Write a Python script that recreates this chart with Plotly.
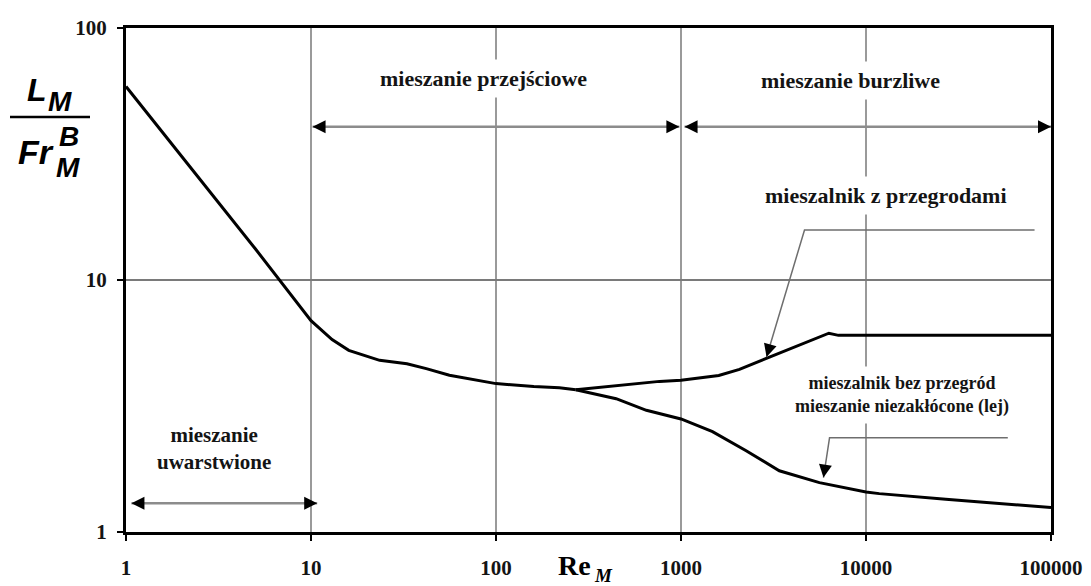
import math
import plotly.graph_objects as go

# ---------------- data ----------------
x_ticks = [1, 10, 100, 1000, 10000, 100000]
x_tick_text = ["1", "10", "100", "1000", "10000", "100000"]
y_ticks = [1, 10, 100]
y_tick_text = ["1", "10", "100"]

# common part of the curve (stratified + transitional regime)
re_common = [1, 2, 5, 10, 11.5, 13, 16, 23.5, 33, 42, 56, 100, 160, 220, 270]
lf_common = [58.6, 30.8, 13.3, 6.9, 6.3, 5.8, 5.26, 4.8, 4.65, 4.45, 4.19, 3.88, 3.78, 3.74, 3.67]

# branch: vessel with baffles
re_baffled = [270, 450, 765, 1000, 1600, 2070, 3000, 4400, 6300, 7100, 100000]
lf_baffled = [3.67, 3.82, 3.96, 4.0, 4.18, 4.42, 4.93, 5.52, 6.15, 6.03, 6.03]

# branch: vessel without baffles (vortex)
re_unbaffled = [270, 446, 650, 870, 1000, 1480, 2250, 3400, 5600, 10000, 11800, 27000, 62000, 100000]
lf_unbaffled = [3.67, 3.38, 3.04, 2.88, 2.81, 2.5, 2.10, 1.75, 1.57, 1.44, 1.42, 1.35, 1.29, 1.25]

# regime range arrows
regime_top_y = 40.6
transitional_x = [10.2, 980]
turbulent_x = [1045, 100000]
stratified_y = 1.30
stratified_x = [1.07, 10.8]

# callout leader lines (end of leader -> knee -> arrow tip)
callout_baffled_x = [81500, 4652, 2900]
callout_baffled_y = [15.8, 15.8, 4.95]
callout_unbaffled_x = [58400, 6353, 5890]
callout_unbaffled_y = [2.366, 2.366, 1.644]

# ---------------- figure ----------------
fig = go.Figure()

curve_style = dict(color="black", width=3)
fig.add_trace(go.Scatter(x=re_common, y=lf_common, mode="lines", line=curve_style, hoverinfo="skip"))
fig.add_trace(go.Scatter(x=re_baffled, y=lf_baffled, mode="lines", line=curve_style, hoverinfo="skip"))
fig.add_trace(go.Scatter(x=re_unbaffled, y=lf_unbaffled, mode="lines", line=curve_style, hoverinfo="skip"))

shaft = dict(color="#8c8c8c", width=2.5)
for xs, yv in [(transitional_x, regime_top_y), (turbulent_x, regime_top_y), (stratified_x, stratified_y)]:
    fig.add_trace(go.Scatter(x=xs, y=[yv, yv], mode="lines", line=shaft, hoverinfo="skip", cliponaxis=False))

leader = dict(color="#6e6e6e", width=1.5)
fig.add_trace(go.Scatter(x=callout_baffled_x, y=callout_baffled_y, mode="lines", line=leader, hoverinfo="skip"))
fig.add_trace(go.Scatter(x=callout_unbaffled_x, y=callout_unbaffled_y, mode="lines", line=leader, hoverinfo="skip"))

annotations = []


def head(x, y, dx, dy):
    annotations.append(dict(
        x=math.log10(x), y=math.log10(y), xref="x", yref="y",
        ax=dx, ay=dy, text=" ", font=dict(size=1),
        showarrow=True, arrowhead=2, arrowsize=1.3, arrowwidth=2,
        arrowcolor="black", standoff=0, startstandoff=0))


L = 13
for xs, yv in [(transitional_x, regime_top_y), (turbulent_x, regime_top_y), (stratified_x, stratified_y)]:
    head(xs[0], yv, L, 0)
    head(xs[1], yv, -L, 0)


def diag_head(xs, ys):
    # direction from knee to tip in pixel space
    px = lambda v: (math.log10(v)) * 185.0
    py = lambda v: -(math.log10(v)) * 251.5
    dx = px(xs[2]) - px(xs[1])
    dy = py(ys[2]) - py(ys[1])
    n = math.hypot(dx, dy)
    head(xs[2], ys[2], -dx / n * L, -dy / n * L)


diag_head(callout_baffled_x, callout_baffled_y)
diag_head(callout_unbaffled_x, callout_unbaffled_y)

serif = "Liberation Serif"
txt_color = "#141414"


def label(text, lx, ly, size, weight="bold", pad=6):
    annotations.append(dict(
        x=lx, y=ly, xref="x", yref="y", text=text, showarrow=False,
        font=dict(family=serif, size=size, color=txt_color, weight=weight),
        bgcolor="white", borderpad=pad, xanchor="center", yanchor="middle"))


label("mieszanie przejściowe", 1.932, 1.80, 22)
label("mieszanie burzliwe", 3.916, 1.792, 22)
label("mieszalnik z przegrodami", 4.109, 1.335, 22)
label("mieszalnik bez przegród<br>mieszanie niezakłócone (lej)", 4.197, 0.545, 18)
label("mieszanie<br>uwarstwione", 0.478, 0.33, 21)

# y-axis title  L_M / Fr_M^B  (pixel-based placement converted to paper coords)
PL, PR, PT, PB = 126, 1051, 28, 532


def pxp(x):
    return (x - PL) / (PR - PL)


def pyp(y):
    return (PB - y) / (PB - PT)


sans_bi = dict(family="Liberation Sans", color="black", weight="bold", style="italic")
for text, cx, cy, size in [("L", 37, 90, 32), ("M", 60, 101, 28),
                           ("Fr", 36, 152, 34), ("B", 69, 136, 28), ("M", 68, 167, 28)]:
    annotations.append(dict(x=pxp(cx), y=pyp(cy), xref="paper", yref="paper", text=text,
                            showarrow=False, font=dict(size=size, **sans_bi),
                            xanchor="center", yanchor="middle"))

# x-axis title Re_M
annotations.append(dict(x=pxp(574), y=pyp(565), xref="paper", yref="paper", text="Re",
                        showarrow=False, font=dict(family=serif, size=28, color="black", weight="bold"),
                        xanchor="center", yanchor="middle"))
annotations.append(dict(x=pxp(603), y=pyp(575), xref="paper", yref="paper", text="M",
                        showarrow=False,
                        font=dict(family=serif, size=19, color="black", weight="bold", style="italic"),
                        xanchor="center", yanchor="middle"))

fraction_bar = dict(type="line", xref="paper", yref="paper",
                    x0=pxp(10), x1=pxp(90), y0=pyp(117), y1=pyp(117),
                    line=dict(color="black", width=2.5))

tick_font = dict(family=serif, size=21, color="#141414", weight="bold")

fig.update_layout(
    width=1091, height=586,
    margin=dict(l=PL, r=1091 - PR, t=PT, b=586 - PB, autoexpand=False),
    paper_bgcolor="white", plot_bgcolor="white",
    showlegend=False,
    annotations=annotations,
    shapes=[fraction_bar],
    xaxis=dict(type="log", range=[0, 5], tickvals=x_ticks, ticktext=x_tick_text,
               showgrid=True, gridcolor="#9a9a9a", gridwidth=2,
               showline=True, linecolor="black", linewidth=3, mirror=True,
               ticks="outside", ticklen=6, tickwidth=2, tickcolor="black",
               tickfont=tick_font, ticklabelstandoff=9, zeroline=False, automargin=False),
    yaxis=dict(type="log", range=[0, 2], tickvals=y_ticks, ticktext=y_tick_text,
               showgrid=True, gridcolor="#7a7a7a", gridwidth=1.5,
               showline=True, linecolor="black", linewidth=3, mirror=True,
               ticks="outside", ticklen=6, tickwidth=2, tickcolor="black",
               tickfont=tick_font, ticklabelstandoff=6, zeroline=False, automargin=False),
)

fig.write_html("out.html", config={"displayModeBar": False},
               post_script="document.body.style.margin='0';")
